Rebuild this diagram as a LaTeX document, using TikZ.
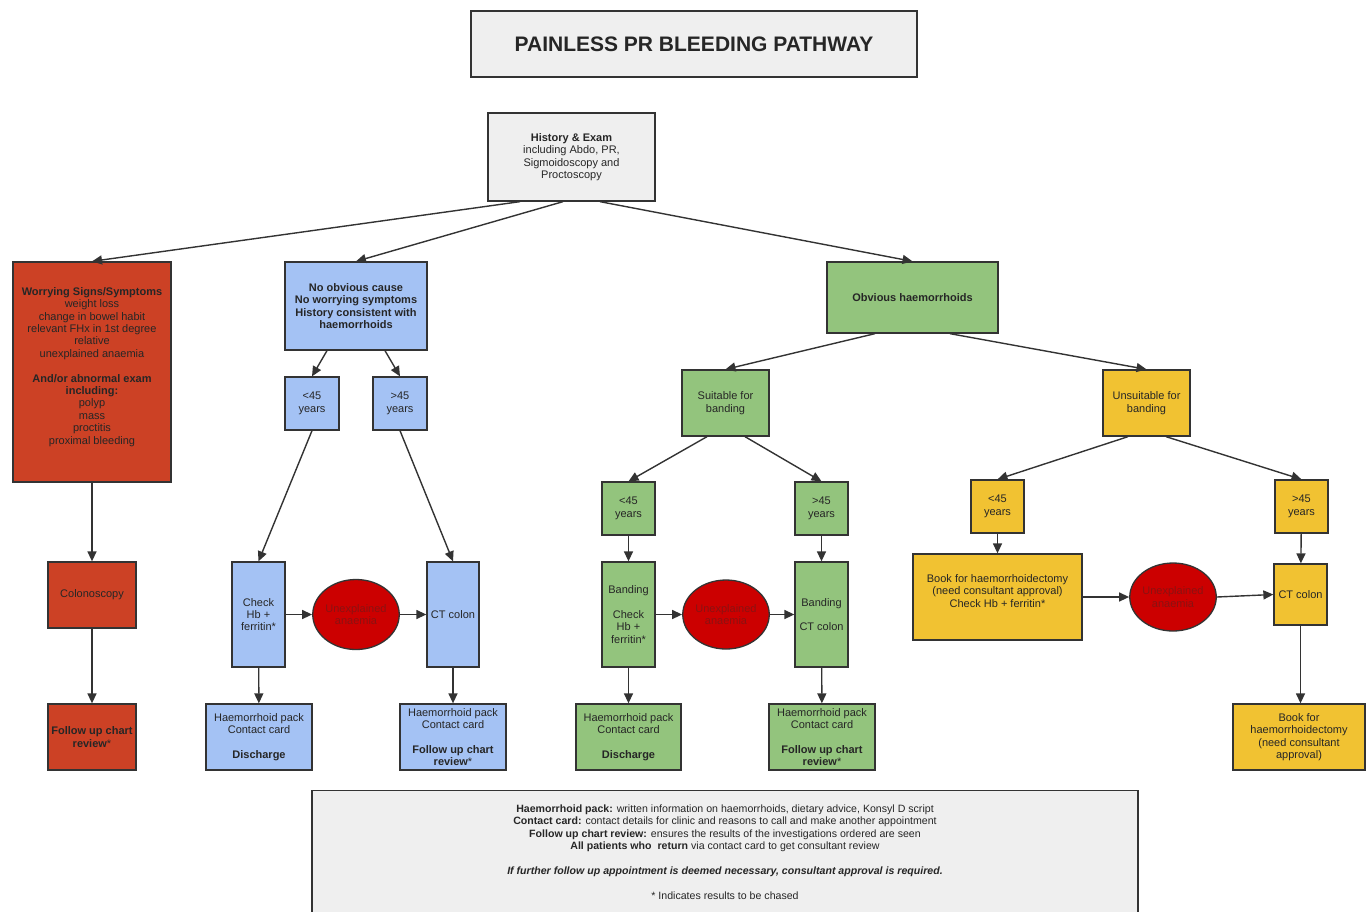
\documentclass[tikz,border=0pt]{standalone}
\usepackage{fontspec}
\setmainfont{Liberation Sans}
\usetikzlibrary{arrows.meta,shapes.geometric}
\definecolor{boxgrey}{HTML}{EFEFEF}
\definecolor{boxred}{HTML}{CC4125}
\definecolor{boxblue}{HTML}{A4C2F4}
\definecolor{boxgreen}{HTML}{93C47D}
\definecolor{boxyellow}{HTML}{F1C232}
\definecolor{anaemiared}{HTML}{CC0000}
\definecolor{anaemiatext}{HTML}{8A1212}
\definecolor{linegrey}{HTML}{333333}

\begin{document}
\begin{tikzpicture}[x=1pt,y=-1pt,
                    every node/.style={font=\fontsize{11}{12.4}\selectfont,align=center,text=black!85},
                    box/.style={rectangle,draw=linegrey,line width=1.3pt,inner sep=1pt},
                    size/.style 2 args={minimum width=#1pt,minimum height=#2pt},
                    grey node/.style={box,fill=boxgrey},
                    red node/.style={box,fill=boxred},
                    blue node/.style={box,fill=boxblue},
                    green node/.style={box,fill=boxgreen},
                    yellow node/.style={box,fill=boxyellow},
                    anaemia node/.style={ellipse,draw=linegrey,line width=1.3pt,fill=anaemiared,
                                         text=anaemiatext,inner sep=0pt,size={86}{70}},
                    flow/.style={draw=linegrey,line width=1.4pt,-{Triangle[length=10pt,width=9pt]}}
                   ]
  \useasboundingbox (0,0) rectangle (1370,911);
  \clip (0,0) rectangle (1370,911);

  % title and start
  \node[grey node,size={446}{66},font=\fontsize{21}{24}\selectfont\bfseries] (title) at (694,44) {PAINLESS PR BLEEDING PATHWAY};
  \node[grey node,size={167}{88}] (hist) at (571.5,157) {\textbf{History \& Exam}\\including Abdo, PR,\\Sigmoidoscopy and\\Proctoscopy};

  % worrying branch
  \node[red node,size={158}{220}] (worry) at (92,372) {\textbf{Worrying Signs/Symptoms}\\weight loss\\change in bowel habit\\relevant FHx in 1st degree\\relative\\unexplained anaemia\\[12.4pt]\textbf{And/or abnormal exam}\\\textbf{including:}\\polyp\\mass\\proctitis\\proximal bleeding\\[0pt]};
  \node[red node,size={88}{66}] (colono) at (92,595) {Colonoscopy};
  \node[red node,size={88}{66}] (rfollow) at (92,737) {\textbf{Follow up chart}\\\textbf{review}*};

  % no obvious cause branch
  \node[blue node,size={142}{88}] (nocause) at (356,306) {\textbf{No obvious cause}\\\textbf{No worrying symptoms}\\\textbf{History consistent with}\\\textbf{haemorrhoids}};
  \node[blue node,size={54}{53}] (bless) at (312,403.5) {<45\\years};
  \node[blue node,size={54}{53}] (bmore) at (400,403.5) {>45\\years};
  \node[blue node,size={53}{105}] (bcheck) at (258.5,614.5) {Check\\Hb +\\ferritin*};
  \node[anaemia node] (banaem) at (356,614.5) {Unexplained\\anaemia};
  \node[blue node,size={52}{105}] (bct) at (453,614.5) {CT colon};
  \node[blue node,size={106}{66}] (bpackd) at (259,737) {Haemorrhoid pack\\Contact card\\[12.4pt]\textbf{Discharge}};
  \node[blue node,size={106}{66}] (bpackf) at (453,737) {Haemorrhoid pack\\Contact card\\[12.4pt]\textbf{Follow up chart}\\\textbf{review}*};

  % obvious haemorrhoids branch
  \node[green node,size={171}{71}] (obvious) at (912.5,297.5) {\textbf{Obvious haemorrhoids}};
  \node[green node,size={87}{66}] (suitable) at (725.5,403) {Suitable for\\banding};
  \node[green node,size={53}{53}] (gless) at (628.5,508.5) {<45\\years};
  \node[green node,size={53}{53}] (gmore) at (821.5,508.5) {>45\\years};
  \node[green node,size={53}{105}] (gband) at (628.5,614.5) {Banding\\[12.4pt]Check\\Hb +\\ferritin*};
  \node[anaemia node,size={86}{69}] (ganaem) at (726,614.5) {Unexplained\\anaemia};
  \node[green node,size={53}{105}] (gbandct) at (821.5,614.5) {Banding\\[12.4pt]CT colon};
  \node[green node,size={105}{66}] (gpackd) at (628.5,737) {Haemorrhoid pack\\Contact card\\[12.4pt]\textbf{Discharge}};
  \node[green node,size={106}{66}] (gpackf) at (822,737) {Haemorrhoid pack\\Contact card\\[12.4pt]\textbf{Follow up chart}\\\textbf{review}*};

  \node[yellow node,size={87}{66}] (unsuitable) at (1146.5,403) {Unsuitable for\\banding};
  \node[yellow node,size={53}{53}] (yless) at (997.5,506.5) {<45\\years};
  \node[yellow node,size={53}{53}] (ymore) at (1301.5,506.5) {>45\\years};
  \node[yellow node,size={169}{86}] (ybook) at (997.5,597) {Book for haemorrhoidectomy\\(need consultant approval)\\Check Hb + ferritin*\\[0pt]};
  \node[anaemia node,size={86}{68}] (yanaem) at (1173,597) {Unexplained\\anaemia};
  \node[yellow node,size={53}{61}] (yct) at (1300.5,594.5) {CT colon};
  \node[yellow node,size={132}{66}] (ybook2) at (1299,737) {Book for\\haemorrhoidectomy\\(need consultant\\approval)};

  % key
  \node[grey node,anchor=north,minimum width=826pt,inner ysep=14pt,
        font=\fontsize{10.6}{12.4}\selectfont] (key) at (725,790)
    {\textbf{Haemorrhoid pack:} written information on haemorrhoids, dietary advice, Konsyl D script\\
     \textbf{Contact card:} contact details for clinic and reasons to call and make another appointment\\
     \textbf{Follow up chart review:} ensures the results of the investigations ordered are seen\\
     \textbf{All patients who\ \ return} via contact card to get consultant review\\[12.4pt]
     \textbf{\itshape If further follow up appointment is deemed necessary, consultant approval is required.}\\[12.4pt]
     * Indicates results to be chased\\[6pt]};

  \path%
   ([xshift=-51.5pt]hist.south) edge [flow] (worry.north)
   ([xshift=-8.5pt]hist.south) edge [flow] (nocause.north)
   ([xshift=28.5pt]hist.south) edge [flow] (obvious.north)
   (worry) edge [flow] (colono)
   (colono) edge [flow] (rfollow)
   ([xshift=-29pt]nocause.south) edge [flow] (bless.north)
   ([xshift=29pt]nocause.south) edge [flow] (bmore.north)
   (bless.south) edge [flow] (bcheck.north)
   (bmore.south) edge [flow] (bct.north)
   (bcheck) edge [flow] (banaem)
   (banaem) edge [flow] (bct)
   (bcheck) edge [flow] (bpackd)
   (bct) edge [flow] (bpackf)
   ([xshift=-37.5pt]obvious.south) edge [flow] (suitable.north)
   ([xshift=37.5pt]obvious.south) edge [flow] (unsuitable.north)
   ([xshift=-18.5pt]suitable.south) edge [flow] (gless.north)
   ([xshift=19.5pt]suitable.south) edge [flow] (gmore.north)
   (gless) edge [flow] (gband)
   (gmore) edge [flow] (gbandct)
   (gband) edge [flow] (ganaem)
   (ganaem) edge [flow] (gbandct)
   (gband) edge [flow] (gpackd)
   (gbandct) edge [flow] (gpackf)
   ([xshift=-18.5pt]unsuitable.south) edge [flow] (yless.north)
   ([xshift=19.5pt]unsuitable.south) edge [flow] (ymore.north)
   (yless) edge [flow] (ybook)
   (ymore) edge [flow] (yct)
   (ybook.east) edge [flow] (yanaem.west)
   (yanaem.east) edge [flow] (yct.west)
   (yct.south) edge [flow] (yct.south |- ybook2.north);
\end{tikzpicture}
\end{document}
